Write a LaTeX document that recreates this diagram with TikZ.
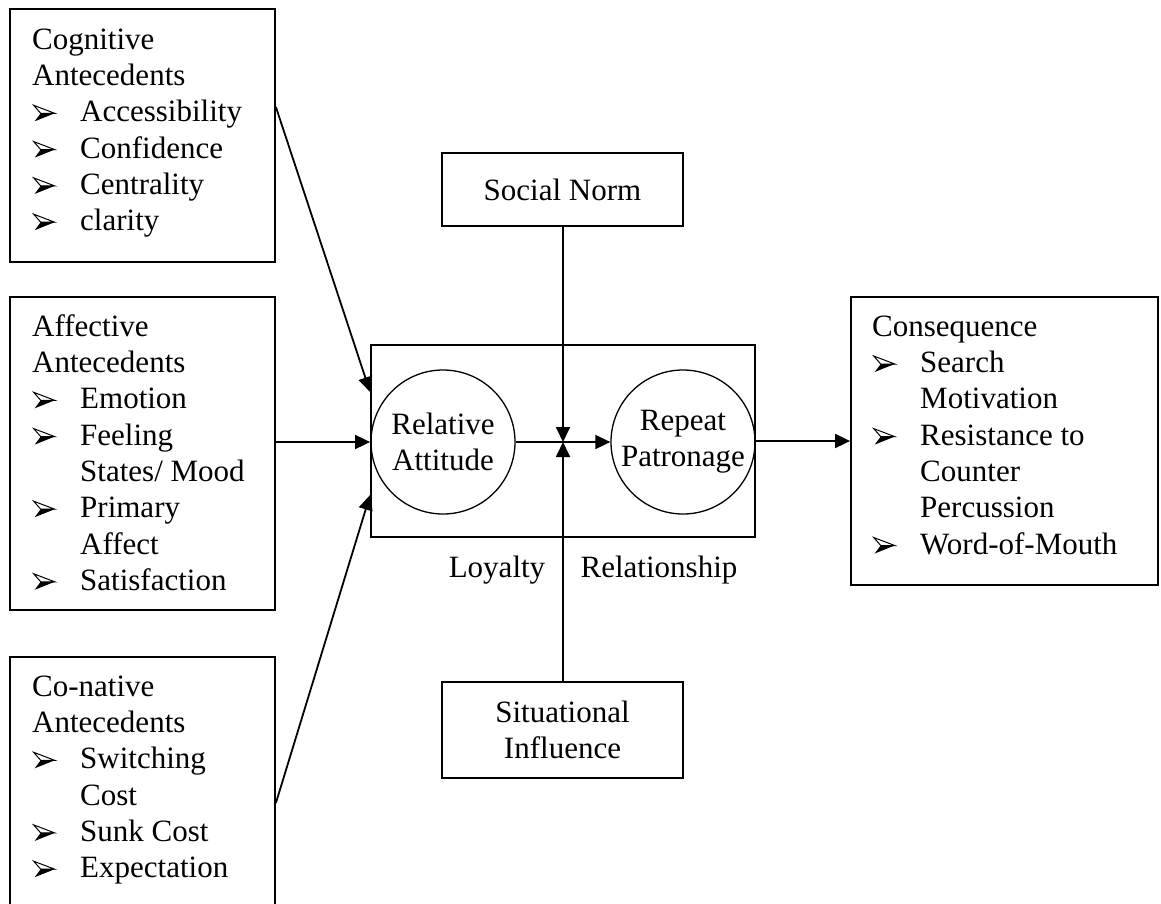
\documentclass[tikz,border=0pt]{standalone}
\usepackage{fontspec}
\setmainfont{Liberation Serif}
\usetikzlibrary{arrows.meta}

% list bullet: a three-dimensional arrowhead, lower facet black, upper facet open
\newsavebox\bulbox
\newcommand\bitem[1]{\makebox[48pt][l]{\hspace{1pt}\raisebox{0.5pt}{\usebox\bulbox}}#1}
\newcommand\bcont[1]{\hspace*{48pt}#1}

\begin{document}
\sbox\bulbox{\begin{pgfpicture}
  \pgfsetmiterjoin
  \pgfpathmoveto{\pgfpoint{21pt}{8pt}}\pgfpathlineto{\pgfpoint{1pt}{0pt}}%
  \pgfpathlineto{\pgfpoint{7pt}{8pt}}\pgfpathclose\pgfusepath{fill}%
  \pgfsetlinewidth{1pt}%
  \pgfpathmoveto{\pgfpoint{21pt}{8pt}}\pgfpathlineto{\pgfpoint{7pt}{8pt}}%
  \pgfpathlineto{\pgfpoint{0pt}{16pt}}\pgfpathclose\pgfusepath{stroke}%
\end{pgfpicture}}%
\begin{tikzpicture}[x=1pt,y=-1pt,
  frame/.style={draw, rectangle, line width=1.8pt, inner sep=0pt},
  ring/.style={draw, circle, line width=1.3pt, minimum size=144pt, inner sep=0pt, align=center, font=\fontsize{31}{36.3}\selectfont},
  txt/.style={inner sep=0pt, font=\fontsize{31}{36.3}\selectfont},
  list/.style={txt, align=left, anchor=north west},
  link/.style={line width=1.8pt, -{Triangle[length=15pt,width=14pt]}}]
\useasboundingbox (0,0) rectangle (1161,904);
\clip (0,0) rectangle (1161,904);

% antecedent boxes
\node[frame, minimum width=265pt, minimum height=253pt] (cog) at (142.5,135.5) {};
\node[frame, minimum width=265pt, minimum height=313pt] (aff) at (142.5,453.5) {};
\node[frame, minimum width=265pt, minimum height=292pt] (con) at (142.5,803) {};

\node[list] (cogtxt) at (32,24) {\rule{0pt}{25pt}Cognitive\\Antecedents\\
  \bitem{Accessibility}\\\bitem{Confidence}\\\bitem{Centrality}\\\bitem{clarity}};
\node[list] (afftxt) at (32,311) {\rule{0pt}{25pt}Affective\\Antecedents\\
  \bitem{Emotion}\\\bitem{Feeling}\\\bcont{States/ Mood}\\\bitem{Primary}\\\bcont{Affect}\\\bitem{Satisfaction}};
\node[list] (contxt) at (32,671) {\rule{0pt}{25pt}Co-native\\Antecedents\\
  \bitem{Switching}\\\bcont{Cost}\\\bitem{Sunk Cost}\\\bitem{Expectation}};

% loyalty relationship
\node[frame, minimum width=384pt, minimum height=192pt] (main) at (563,441) {};
\node[ring] (rel) at (443,442) {Relative\\Attitude};
\node[ring] (rep) at (683,442) {Repeat\\Patronage};
\node[txt, anchor=base] (loy) at (497,577) {Loyalty};
\node[txt, anchor=base] (rls) at (659,577) {Relationship};

% moderators
\node[frame, txt, minimum width=241pt, minimum height=73pt] (soc) at (562.5,189.5) {Social Norm};
\node[frame, txt, align=center, minimum width=241pt, minimum height=96pt] (sit) at (562.5,730) {Situational\\Influence};
\coordinate (junc) at (563,442);

% consequences
\node[frame, minimum width=307pt, minimum height=288pt] (cons) at (1004.5,441) {};
\node[list] (constxt) at (872,311) {\rule{0pt}{25pt}Consequence\\
  \bitem{Search}\\\bcont{Motivation}\\\bitem{Resistance to}\\\bcont{Counter}\\\bcont{Percussion}\\\bitem{Word-of-Mouth}};

% connectors
\draw[link] ([yshift=28.5pt]cog.east) -- ([yshift=49pt]main.west);
\draw[link] ([yshift=11.5pt]aff.east) -- ([yshift=-1pt]main.west);
\draw[link] (con.east) -- ([yshift=-54pt]main.west);
\draw[link] (rel.east) -- (rep.west);
\draw[link] (soc.south -| junc) -- (junc);
\draw[link] (sit.north -| junc) -- (junc);
\draw[link] (main.east) -- (cons.west);
\end{tikzpicture}
\end{document}
